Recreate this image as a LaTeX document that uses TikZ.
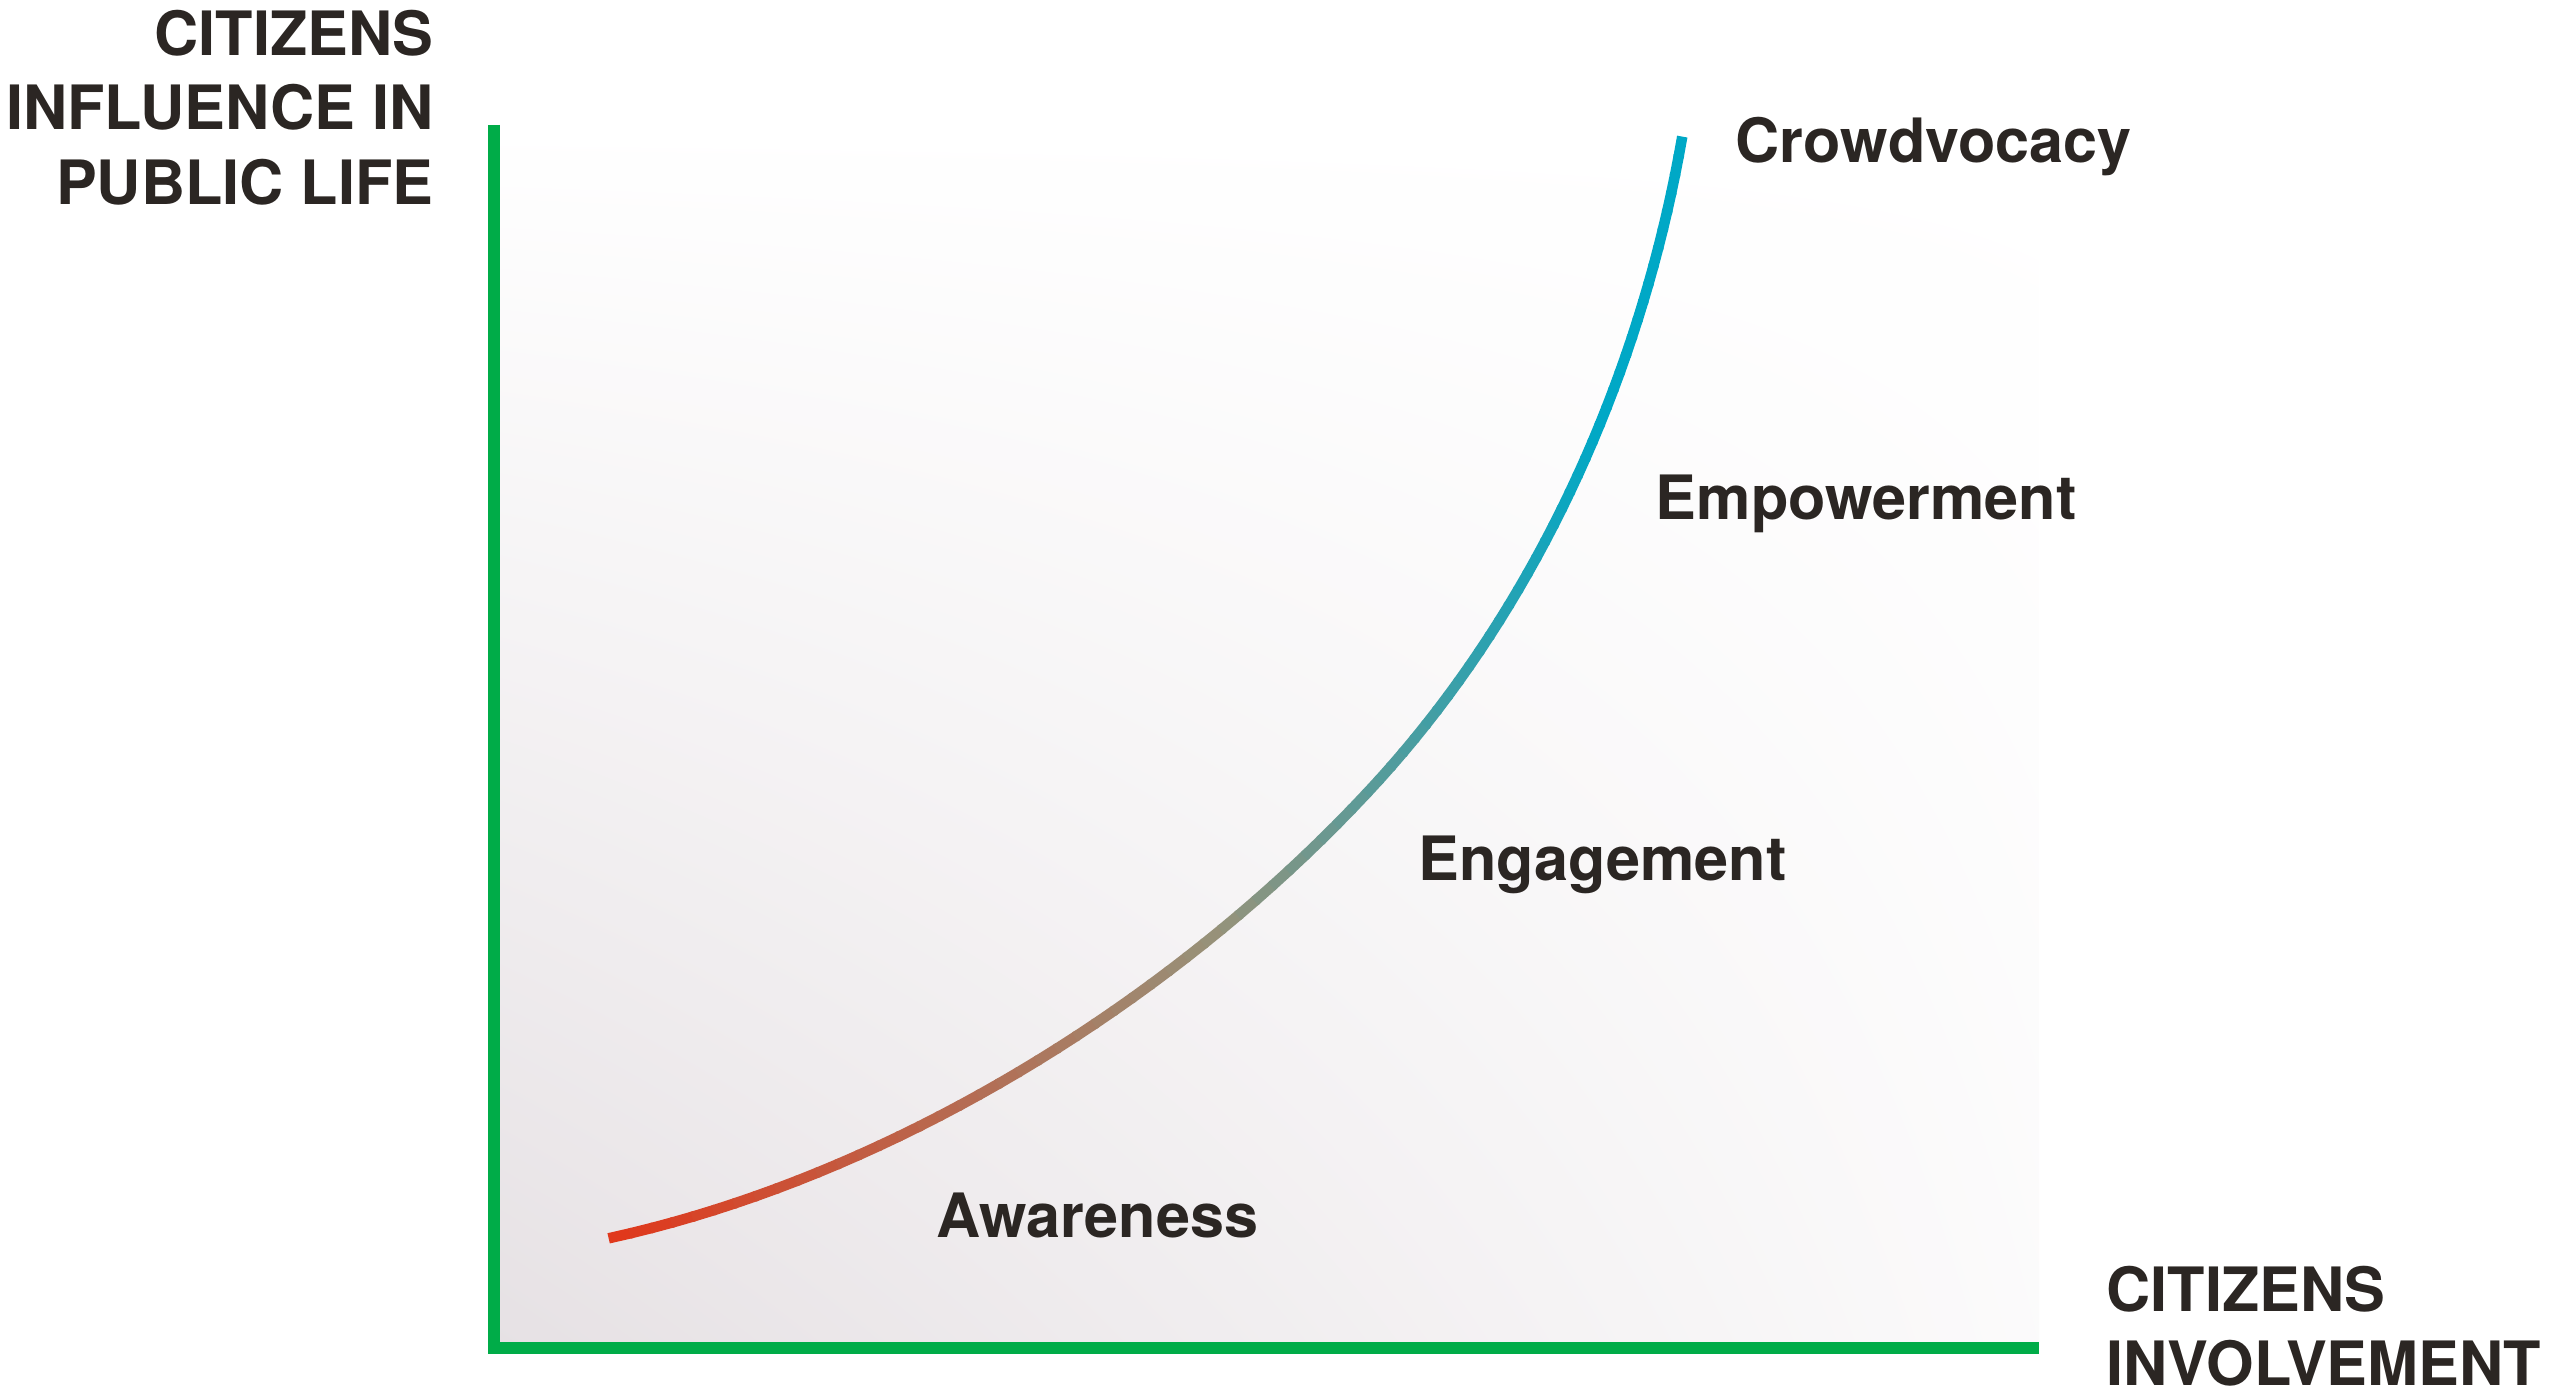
\documentclass[tikz,border=0pt]{standalone}
\usepackage{fontspec}
\setmainfont{TeX Gyre Heros}
\usetikzlibrary{shadings}

\definecolor{axisgreen}{RGB}{0,172,72}
\definecolor{txtdark}{RGB}{43,38,35}
\definecolor{shadecol}{RGB}{230,225,228}
\definecolor{crvred}{RGB}{224,56,28}
\definecolor{crvmid}{RGB}{150,146,122}
\definecolor{crvend}{RGB}{0,168,198}
\newdimen\segx
\newdimen\crvxa
\newdimen\crvxb

\begin{document}
\begin{tikzpicture}[x=0.1mm,y=-0.1mm,
    lbl/.style={font=\fontsize{17.4}{21.3}\selectfont\bfseries,text=txtdark,inner sep=0pt},
    axisline/.style={axisgreen,line width=1.15mm,line join=miter},
    curve/.style={line width=1.05mm,shorten <=-0.4pt,shorten >=-0.4pt}]
 		\useasboundingbox (0,0) rectangle (2552,1394);

 		% shaded plot area
 		\shade[lower left=shadecol,upper left=white,upper right=white,lower right=white!85!shadecol]
 		  (494,125) rectangle (2039,1348);

 		\coordinate (ytop) at (494,125);
 		\coordinate (orig) at (494,1348);
 		\coordinate (xend) at (2039,1348);
 		\draw[axisline] (ytop) -- (orig) -- (xend);

 		\node[lbl,align=right,anchor=north east] (ylab) at (434,9) {CITIZENS\\INFLUENCE IN\\PUBLIC LIFE};
 		\node[lbl,align=left,anchor=north west] (xlab) at (2106,1265) {CITIZENS\\INVOLVEMENT};

 		% growth curve, two pieces
 		\coordinate (s0) at (610,1238);
 		\coordinate (a1) at (888,1177);
 		\coordinate (a2) at (1169,1005);
 		\coordinate (sm) at (1367,793);
 		\coordinate (b1) at (1531,618);
 		\coordinate (b2) at (1639,384);
 		\coordinate (s3) at (1682,138);
 		\foreach \i [evaluate=\i as \t using \i/40] in {0,...,40}
 		  \path (s0) .. controls (a1) and (a2) .. (sm) coordinate[pos=\t] (p\i);
 		\foreach \i [evaluate=\i as \t using (\i-40)/40] in {41,...,80}
 		  \path (sm) .. controls (b1) and (b2) .. (s3) coordinate[pos=\t] (p\i);

 		% colour follows x
 		\pgfextractx{\crvxa}{\pgfpointanchor{s0}{center}}
 		\pgfextractx{\crvxb}{\pgfpointanchor{s3}{center}}
 		\foreach \i [count=\j from 1] in {0,...,79}{
 		  \pgfextractx{\segx}{\pgfpointanchor{p\i}{center}}
 		  \pgfmathsetmacro\pct{max(0,(\segx-\crvxa)/(\crvxb-\crvxa)*100)}
 		  \ifdim\pct pt<56pt
 		    \pgfmathsetmacro\mixp{\pct/0.56}
 		    \colorlet{segcol}{crvmid!\mixp!crvred}
 		  \else
 		    \pgfmathsetmacro\mixp{min(100,(\pct-56)/0.36)}
 		    \colorlet{segcol}{crvend!\mixp!crvmid}
 		  \fi
 		  \draw[curve,segcol] (p\i) -- (p\j);
 		}

 		\node[lbl,anchor=base west] (aware) at (936,1238) {Awareness};
 		\node[lbl,anchor=base west] (engage) at (1418,881) {Engagement};
 		\node[lbl,anchor=base west] (empower) at (1655,520) {Empowerment};
 		\node[lbl,anchor=base west] (crowd) at (1735,163) {Crowdvocacy};
 	 \end{tikzpicture}
\end{document}
